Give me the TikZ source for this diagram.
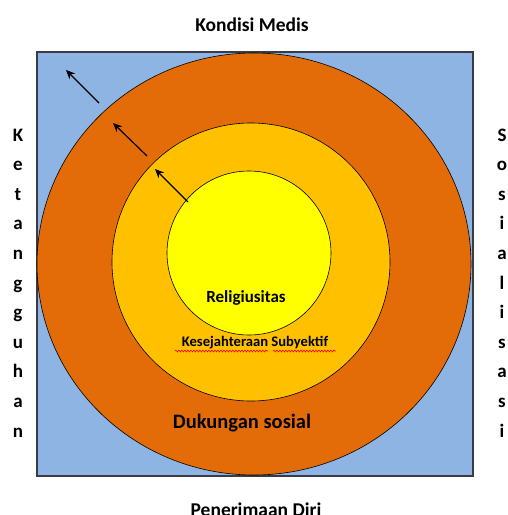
\documentclass[tikz,border=0pt]{standalone}
\usepackage{fontspec}
\setmainfont{Carlito}
\usetikzlibrary{arrows.meta,decorations.pathmorphing,shapes.geometric}
\definecolor{bgblue}{RGB}{142,180,227}
\definecolor{ringorange}{RGB}{227,108,9}
\definecolor{ringgold}{RGB}{255,192,0}
\definecolor{coreyellow}{RGB}{255,255,0}
\definecolor{edgegray}{RGB}{55,60,70}
\tikzset{
  lbl/.style={font=\bfseries\fontsize{19.5}{22}\selectfont, inner sep=0pt},
  vlbl/.style={font=\bfseries\fontsize{19}{22}\selectfont, inner sep=0pt},
  outarrow/.style={-{Stealth[length=9pt,width=8pt]}, line width=1.2pt, black},
  ring/.style={draw=black, line width=0.6pt},
  squig/.style={draw=red, line width=0.6pt, decorate, decoration={snake, amplitude=0.9pt, segment length=3pt}}
}
\begin{document}
\begin{tikzpicture}[x=1pt,y=-1pt]
\useasboundingbox (0,0) rectangle (508,515);
\clip (0,0) rectangle (508,515);
\fill[white] (0,0) rectangle (508,515);
\node[draw=edgegray, line width=1.3pt, fill=bgblue, minimum width=436pt, minimum height=424pt, inner sep=0pt] (sq) at (255,264) {};
\node[ring, fill=ringorange, ellipse, minimum width=434pt, minimum height=422pt, inner sep=0pt] (outer) at (254,264) {};
\node[ring, fill=ringgold, circle, minimum size=278pt, inner sep=0pt] (mid) at (251,262) {};
\node[ring, fill=coreyellow, circle, minimum size=164pt, inner sep=0pt] (core) at (249,253) {};
\coordinate (a1s) at (99,103); \coordinate (a1e) at (66,70);
\coordinate (a2s) at (147,156); \coordinate (a2e) at (113,123);
\coordinate (a3s) at (188,202); \coordinate (a3e) at (155,169);
\draw[outarrow] (a1s) -- (a1e);
\draw[outarrow] (a2s) -- (a2e);
\draw[outarrow] (a3s) -- (a3e);
\node[lbl] (top) at (252,25) {Kondisi Medis};
\node[lbl, anchor=base] (bot) at (256,516) {Penerimaan Diri};
\node[lbl, font=\bfseries\fontsize{17}{20}\selectfont] (rel) at (246,298) {Religiusitas};
\node[lbl, font=\bfseries\fontsize{14.6}{17}\selectfont] (kes) at (255,343) {Kesejahteraan Subyektif};
\node[lbl, font=\bfseries\fontsize{20.5}{24}\selectfont] (duk) at (242,423) {Dukungan sosial};
\coordinate (w1s) at (175,351); \coordinate (w1e) at (268,351);
\coordinate (w2s) at (273,351); \coordinate (w2e) at (336,351);
\draw[squig] (w1s) -- (w1e);
\draw[squig] (w2s) -- (w2e);
\foreach \ch [count=\k from 0] in {K,e,t,a,n,g,g,u,h,a,n}
  \node[vlbl, anchor=base] (l\k) at (18,141+29.6*\k) {\ch};
\foreach \ch [count=\k from 0] in {S,o,s,i,a,l,i,s,a,s,i}
  \node[vlbl, anchor=base] (r\k) at (502,141+29.6*\k) {\ch};
\end{tikzpicture}
\end{document}
